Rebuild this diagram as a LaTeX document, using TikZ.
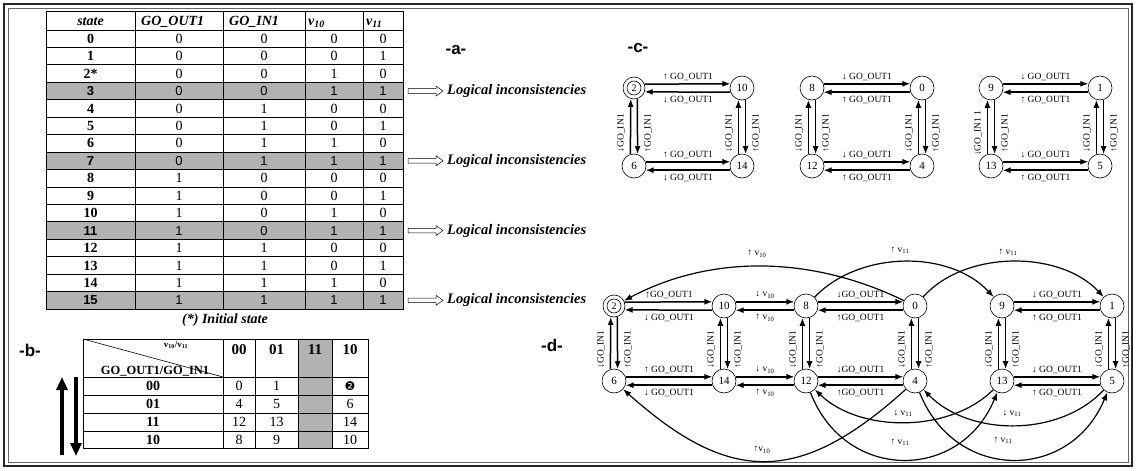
\documentclass[tikz,border=0pt]{standalone}
\usepackage{fontspec}
\setmainfont{Liberation Serif}
\setsansfont{Liberation Sans}
\newfontfamily\djv{DejaVu Sans}
\usetikzlibrary{arrows.meta,calc}
\newcommand\GOo{GO\_OUT1}
\newcommand\GOi{GO\_IN1}
\newcommand\hpair[4]{%
  \draw[ed] (#1.20) -- (#2.160);
  \draw[ed] (#2.200) -- (#1.340);
  \node[lb] at ($(#1)!0.5!(#2)+(0,-11)$) {#3};
  \node[lb] at ($(#1)!0.5!(#2)+(0,12)$) {#4};
}
\newcommand\vpair[4]{%
  \draw[ed] (#2.107) -- (#1.253);
  \draw[ed] (#1.287) -- (#2.73);
  \node[lb,rotate=90] at ($(#1)!0.58!(#2)+(-13,0)$) {#3};
  \node[lb,rotate=90] at ($(#1)!0.58!(#2)+(14,0)$) {#4};
}
\begin{document}
\begin{tikzpicture}[x=1pt,y=-1pt,
  st/.style={circle,draw,line width=0.6pt,minimum size=24pt,inner sep=0pt,font=\fontsize{11}{11}\selectfont},
  ed/.style={line width=1.5pt,-{Latex[length=8pt,width=6pt]}},
  cv/.style={line width=1.2pt,-{Latex[length=8pt,width=6pt]}},
  lb/.style={inner sep=0pt,font=\fontsize{9.5}{9.5}\selectfont},
  tl/.style={line width=0.9pt},
  tv/.style={inner sep=0pt,font=\fontsize{14}{14}\selectfont},
  tg/.style={inner sep=0pt,font=\sffamily\fontsize{13}{13}\selectfont},
  th/.style={inner sep=0pt,anchor=base west,font=\bfseries\itshape\fontsize{14}{14}\selectfont},
  pl/.style={inner sep=0pt,font=\sffamily\bfseries\fontsize{17}{17}\selectfont},
  li/.style={inner sep=0pt,anchor=west,font=\bfseries\itshape\fontsize{14.5}{14.5}\selectfont},
  hol/.style={draw,line width=0.5pt,fill=white},
  bh/.style={inner sep=0pt,font=\bfseries\fontsize{15}{15}\selectfont},
  bb/.style={inner sep=0pt,font=\bfseries\fontsize{14}{14}\selectfont},
  bigarr/.style={line width=3.5pt,-{Triangle[length=13pt,width=11pt]}},
]
\useasboundingbox (0,0) rectangle (1136,471);
% frame
\draw[line width=1.3pt,black!85] (4,4) rectangle (1132,466);
\draw[line width=0.5pt,black!60] (8,8) rectangle (1128,462);

% ---------- table a ----------
\foreach \i in {3,7,11,15}
  \fill[gray!60] (46,{30+17.44*\i}) rectangle (403,{30+17.44*(\i+1)});
\draw[tl] (46,11) rectangle (403,309.04);
\foreach \k in {0,...,15} \draw[tl] (46,{30+17.44*\k}) -- (403,{30+17.44*\k});
\foreach \xx in {135,223,305,363} \draw[tl] (\xx,11) -- (\xx,309.04);
\node[th,anchor=base] (h1) at (90.5,25.5) {state};
\node[th] (h2) at (141,25.5) {GO\_OUT1};
\node[th] (h3) at (229,25.5) {GO\_IN1};
\node[th] (h4) at (308,25.5) {v\textsubscript{10}};
\node[th] (h5) at (366,25.5) {v\textsubscript{11}};
\foreach \i/\sv/\va/\vb/\vc/\vd in {0/0/0/0/0/0,1/1/0/0/0/1,2/2*/0/0/1/0,4/4/0/1/0/0,5/5/0/1/0/1,6/6/0/1/1/0,8/8/1/0/0/0,9/9/1/0/0/1,10/10/1/0/1/0,12/12/1/1/0/0,13/13/1/1/0/1,14/14/1/1/1/0}{
  \node[tv] (sa\i) at (90.5,{38.72+17.44*\i}) {\textbf{\sv}};
  \node[tv] (pa\i) at (179,{38.72+17.44*\i}) {\va};
  \node[tv] (qa\i) at (264,{38.72+17.44*\i}) {\vb};
  \node[tv] (ra\i) at (334,{38.72+17.44*\i}) {\vc};
  \node[tv] (ua\i) at (383,{38.72+17.44*\i}) {\vd};
}
\foreach \i/\va/\vb in {3/0/0,7/0/1,11/1/0,15/1/1}{
  \node[tg] (sa\i) at (90.5,{38.72+17.44*\i}) {\textbf{\i}};
  \node[tg] (pa\i) at (179,{38.72+17.44*\i}) {\va};
  \node[tg] (qa\i) at (264,{38.72+17.44*\i}) {\vb};
  \node[tg] (ra\i) at (334,{38.72+17.44*\i}) {1};
  \node[tg] (ua\i) at (383,{38.72+17.44*\i}) {1};
  \draw[hol] (408,{38.72+17.44*\i}) ++(0,-2.3) -- ++(28,0) -- ++(0,-2.7) -- ++(7,5) -- ++(-7,5) -- ++(0,-2.7) -- ++(-28,0) -- cycle;
  \node[li] (li\i) at (447,{38.72+17.44*\i}) {Logical inconsistencies};
}
\node[inner sep=0pt,font=\bfseries\itshape\fontsize{14}{14}\selectfont] (cap) at (225,320) {(*) Initial state};
\node[pl] (la) at (456,50) {-a-};

% ---------- table b ----------
\fill[gray!60] (298,339) rectangle (332,448);
\draw[tl] (83,339) rectangle (368,448);
\foreach \xx in {223,255,298,332} \draw[tl] (\xx,339) -- (\xx,448);
\foreach \yy in {377,395,413,431} \draw[tl] (83,\yy) -- (368,\yy);
\draw[line width=0.6pt] (83,339) -- (223,377);
\node[inner sep=0pt,font=\bfseries\fontsize{9}{9}\selectfont] (bv) at (176,345) {v\textsubscript{10}/v\textsubscript{11}};
\node[inner sep=0pt,font=\bfseries\fontsize{12.5}{12.5}\selectfont] (bg) at (155,371) {GO\_OUT1/GO\_IN1};
\node[bh] (bc1) at (239,350) {00};
\node[bh] (bc2) at (276.5,350) {01};
\node[bh] (bc3) at (315,350) {11};
\node[bh] (bc4) at (350,350) {10};
\node[bb] (br1) at (153,386) {00};
\node[bb] (br2) at (153,404) {01};
\node[bb] (br3) at (153,422) {11};
\node[bb] (br4) at (153,439.5) {10};
\node[tv] (b0) at (239,386) {0};
\node[tv] (b1) at (276.5,386) {1};
\node[inner sep=0pt,font=\djv\fontsize{12}{12}\selectfont] (b2) at (350,386) {❷};
\node[tv] (b4) at (239,404) {4};
\node[tv] (b5) at (276.5,404) {5};
\node[tv] (b6) at (350,404) {6};
\node[tv] (b12) at (239,422) {12};
\node[tv] (b13) at (276.5,422) {13};
\node[tv] (b14) at (350,422) {14};
\node[tv] (b8) at (239,439.5) {8};
\node[tv] (b9) at (276.5,439.5) {9};
\node[tv] (b10) at (350,439.5) {10};
\coordinate (ua0) at (62,455);
\coordinate (ua1) at (62,377);
\coordinate (da0) at (76,377);
\coordinate (da1) at (76,456);
\draw[bigarr] (ua0) -- (ua1);
\draw[bigarr] (da0) -- (da1);
\node[pl] (lbb) at (30,350) {-b-};

% ---------- graph c ----------
\node[pl] (lc) at (638,48) {-c-};
\node[st,minimum size=22pt,font=\fontsize{10}{10}\selectfont] (c2) at (634,88) {2};
\draw[line width=0.6pt] (c2.center) circle (7pt);
\node[st] (c10) at (742,88) {10};
\node[st] (c6) at (634,166) {6};
\node[st] (c14) at (742,166) {14};
\node[st] (c8) at (812,88) {8};
\node[st] (c0) at (922,88) {0};
\node[st] (c12) at (812,166) {12};
\node[st] (c4) at (922,166) {4};
\node[st] (c9) at (991,88) {9};
\node[st] (c1) at (1100,88) {1};
\node[st] (c13) at (991,166) {13};
\node[st] (c5) at (1100,166) {5};
\hpair{c2}{c10}{↑ \GOo}{↓ \GOo}
\hpair{c6}{c14}{↑ \GOo}{↓ \GOo}
\vpair{c2}{c6}{↓\GOi}{↑\GOi}
\vpair{c10}{c14}{↓\GOi}{↑\GOi}
\hpair{c8}{c0}{↓ \GOo}{↑ \GOo}
\hpair{c12}{c4}{↓ \GOo}{↑ \GOo}
\vpair{c8}{c12}{↓\GOi}{↑\GOi}
\vpair{c0}{c4}{↓\GOi}{↑\GOi}
\hpair{c9}{c1}{↓ \GOo}{↑ \GOo}
\hpair{c13}{c5}{↓ \GOo}{↑ \GOo}
\vpair{c9}{c13}{↓\GOi\ 1}{↑\GOi}
\vpair{c1}{c5}{↓\GOi}{↑\GOi}

% ---------- graph d ----------
\node[pl] (ld) at (552,345) {-d-};
\node[st,minimum size=22pt,font=\fontsize{10}{10}\selectfont] (d2) at (614,306) {2};
\draw[line width=0.6pt] (d2.center) circle (7pt);
\node[st] (d10) at (724,306) {10};
\node[st] (d8) at (806,306) {8};
\node[st] (d0) at (915,306) {0};
\node[st] (d9) at (1002,306) {9};
\node[st] (d1) at (1112,306) {1};
\node[st] (d6) at (614,381) {6};
\node[st] (d14) at (724,381) {14};
\node[st] (d12) at (806,381) {12};
\node[st] (d4) at (915,381) {4};
\node[st] (d13) at (1002,381) {13};
\node[st] (d5) at (1112,381) {5};
\hpair{d2}{d10}{↑\GOo}{↓ \GOo}
\hpair{d10}{d8}{↓ v\textsubscript{10}}{↑ v\textsubscript{10}}
\hpair{d8}{d0}{↓\GOo}{↑\GOo}
\hpair{d9}{d1}{↓ \GOo}{↑ \GOo}
\hpair{d6}{d14}{↑ \GOo}{↓ \GOo}
\hpair{d14}{d12}{↓ v\textsubscript{10}}{↑ v\textsubscript{10}}
\hpair{d12}{d4}{↓\GOo}{↑\GOo}
\hpair{d13}{d5}{↓ \GOo}{↑ \GOo}
\vpair{d2}{d6}{↓\GOi}{↑\GOi}
\vpair{d10}{d14}{↓\GOi}{↑\GOi}
\vpair{d8}{d12}{↓\GOi}{↑\GOi}
\vpair{d0}{d4}{↓\GOi}{↑\GOi}
\vpair{d9}{d13}{↓\GOi}{↑\GOi}
\vpair{d1}{d5}{↓\GOi}{↑\GOi}
% curves
\draw[cv] (d0) .. controls (810,255) and (710,255) .. (d2);
\draw[cv] (d8) .. controls (860,250) and (950,250) .. (d9);
\draw[cv] (d0) .. controls (965,250) and (1060,250) .. (d1);
\draw[cv] (d4) .. controls (800,485) and (730,485) .. (d6);
\draw[cv] (d13) .. controls (950,433) and (860,433) .. (d12);
\draw[cv] (d5) .. controls (1060,437) and (970,437) .. (d4);
\draw[cv] (d12) .. controls (845,482) and (960,482) .. (d13);
\draw[cv] (d4) .. controls (955,482) and (1070,482) .. (d5);
\node[lb] (lv1) at (757,254) {↑ v\textsubscript{10}};
\node[lb] (lv2) at (900,250) {↑ v\textsubscript{11}};
\node[lb] (lv3) at (1008,252) {↑ v\textsubscript{11}};
\node[lb] (lv4) at (762,450) {↑v\textsubscript{10}};
\node[lb] (lv5) at (903,413) {↓ v\textsubscript{11}};
\node[lb] (lv6) at (1012,413) {↓ v\textsubscript{11}};
\node[lb] (lv7) at (900,442) {↑ v\textsubscript{11}};
\node[lb] (lv8) at (1003,440) {↑ v\textsubscript{11}};
\end{tikzpicture}
\end{document}
